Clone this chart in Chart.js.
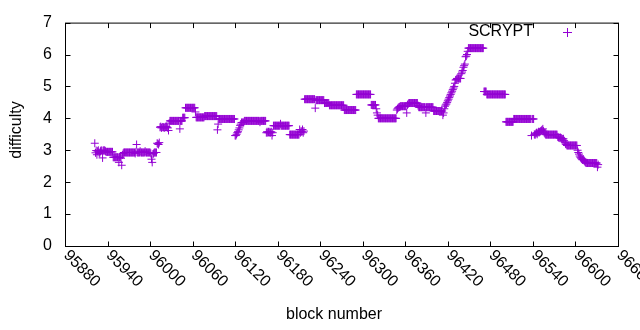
<!DOCTYPE html>
<html>
<head>
<meta charset="utf-8">
<script src="https://cdn.jsdelivr.net/npm/chart.js@4.4.1/dist/chart.umd.min.js"></script>
<style>
  html, body { margin: 0; padding: 0; background: #fff; }
  #chart { display: block; }
</style>
</head>
<body>
<canvas id="chart" width="640" height="330"></canvas>
<script>
// ── difficulty per block, one value per block from firstBlock on ──

const seriesName = 'SCRYPT';
const firstBlock = 95922;
const difficulty = [
  3.22,2.92,2.99,2.86,2.97,3.00,2.93,2.90,2.97,3.00, // 95922
  2.98,2.76,3.00,2.98,3.00,2.97,2.95,2.95,2.95,2.95, // 95932
  2.95,2.95,2.95,2.95,2.95,2.95,2.78,2.78,2.78,2.78, // 95942
  2.78,2.78,2.78,2.78,2.62,2.78,2.78,2.75,2.53,2.85, // 95952
  2.90,2.93,2.93,2.93,2.93,2.93,2.93,2.93,2.93,2.93, // 95962
  2.93,2.93,2.93,2.93,2.93,2.93,2.93,2.90,2.95,3.18, // 95972
  2.93,2.93,2.93,2.93,2.97,2.93,2.93,2.93,2.93,2.93, // 95982
  2.93,2.97,2.93,2.93,2.93,2.93,2.93,2.93,2.93,2.90, // 95992
  2.72,2.62,2.88,2.90,2.93,2.93,2.93,2.93,3.22,3.20, // 96002
  3.18,3.24,3.72,3.74,3.70,3.72,3.73,3.72,3.70,3.73, // 96012
  3.72,3.74,3.72,3.70,3.62,3.85,3.92,3.92,3.92,3.92, // 96022
  3.92,3.92,3.92,3.92,3.92,3.92,3.92,3.92,3.92,3.92, // 96032
  3.67,3.92,3.92,3.92,4.02,4.02,4.02,4.02,4.33,4.33, // 96042
  4.33,4.33,4.33,4.33,4.33,4.33,4.33,4.33,4.33,4.33, // 96052
  4.33,4.33,4.20,4.03,4.03,4.03,4.03,4.03,4.03,4.03, // 96062
  4.03,4.03,4.03,4.03,4.03,4.07,4.07,4.07,4.07,4.07, // 96072
  4.07,4.07,4.07,4.07,4.07,4.07,4.07,4.07,4.07,4.07, // 96082
  4.07,4.07,4.07,3.64,3.82,3.98,3.98,3.98,3.98,3.98, // 96092
  3.98,3.98,3.98,3.98,3.98,3.98,3.98,3.98,3.98,3.98, // 96102
  3.98,3.98,3.98,3.98,3.98,3.98,3.98,3.98,3.46,3.46, // 96112
  3.50,3.55,3.58,3.64,3.70,3.78,3.82,3.87,3.87,3.87, // 96122
  3.87,3.92,3.92,3.92,3.92,3.92,3.92,3.92,3.92,3.92, // 96132
  3.92,3.92,3.92,3.92,3.92,3.92,3.92,3.92,3.92,3.92, // 96142
  3.92,3.92,3.92,3.88,3.92,3.92,3.92,3.92,3.92,3.92, // 96152
  3.92,3.92,3.55,3.58,3.55,3.58,3.55,3.58,3.55,3.58, // 96162
  3.46,3.55,3.77,3.77,3.77,3.77,3.77,3.77,3.77,3.77, // 96172
  3.77,3.77,3.83,3.77,3.77,3.77,3.77,3.77,3.77,3.77, // 96182
  3.77,3.77,3.77,3.77,3.77,3.49,3.49,3.49,3.49,3.49, // 96192
  3.49,3.49,3.49,3.49,3.49,3.49,3.49,3.49,3.49,3.65, // 96202
  3.55,3.60,3.58,3.65,3.55,3.60,4.60,4.60,4.60,4.60, // 96212
  4.60,4.60,4.60,4.60,4.60,4.60,4.60,4.60,4.60,4.60, // 96222
  4.60,4.32,4.57,4.57,4.57,4.57,4.57,4.57,4.57,4.57, // 96232
  4.57,4.57,4.57,4.57,4.48,4.48,4.48,4.48,4.48,4.48, // 96242
  4.48,4.41,4.41,4.41,4.41,4.41,4.41,4.41,4.41,4.41, // 96252
  4.41,4.41,4.41,4.41,4.41,4.41,4.41,4.41,4.41,4.41, // 96262
  4.41,4.41,4.26,4.26,4.26,4.26,4.26,4.26,4.26,4.26, // 96272
  4.26,4.26,4.26,4.26,4.26,4.26,4.26,4.26,4.26,4.75, // 96282
  4.75,4.75,4.75,4.75,4.75,4.75,4.75,4.75,4.75,4.75, // 96292
  4.75,4.75,4.75,4.75,4.75,4.75,4.75,4.75,4.75,4.75, // 96302
  4.42,4.42,4.42,4.42,4.42,4.42,4.42,4.30,4.17,4.10, // 96312
  4.00,4.00,4.00,4.00,4.00,4.00,4.00,4.00,4.00,4.00, // 96322
  4.00,4.00,4.00,4.00,4.00,4.00,4.00,4.00,4.00,4.00, // 96332
  4.00,4.00,4.00,4.00,4.00,4.00,4.26,4.30,4.33,4.35, // 96342
  4.36,4.38,4.38,4.38,4.38,4.38,4.38,4.38,4.38,4.38, // 96352
  4.17,4.42,4.45,4.48,4.48,4.48,4.48,4.48,4.48,4.48, // 96362
  4.48,4.48,4.48,4.48,4.48,4.48,4.40,4.35,4.35,4.35, // 96372
  4.35,4.35,4.35,4.35,4.35,4.35,4.35,4.17,4.35,4.35, // 96382
  4.35,4.35,4.35,4.35,4.35,4.35,4.35,4.35,4.23,4.23, // 96392
  4.23,4.23,4.23,4.23,4.23,4.23,4.23,4.23,4.23,4.23, // 96402
  4.23,4.10,4.17,4.30,4.38,4.42,4.45,4.50,4.55,4.60, // 96412
  4.65,4.70,4.75,4.80,4.85,4.90,4.95,5.00,5.10,5.20, // 96422
  5.22,5.25,5.25,5.25,5.25,5.25,5.25,5.40,5.45,5.50, // 96432
  5.60,5.65,5.70,5.93,5.95,6.00,6.10,6.20,6.20,6.20, // 96442
  6.20,6.20,6.20,6.20,6.20,6.20,6.20,6.20,6.20,6.20, // 96452
  6.20,6.20,6.20,6.20,6.20,6.20,6.20,6.20,6.20,4.84, // 96462
  4.84,4.84,4.84,4.75,4.75,4.75,4.75,4.75,4.75,4.75, // 96472
  4.75,4.75,4.75,4.75,4.75,4.75,4.75,4.75,4.75,4.75, // 96482
  4.75,4.75,4.75,4.75,4.75,4.75,4.75,4.75,4.75,4.75, // 96492
  3.89,3.89,3.89,3.89,3.89,3.89,3.89,3.89,3.89,3.89, // 96502
  3.89,3.98,3.98,3.98,3.98,3.98,3.98,3.98,3.98,3.98, // 96512
  3.98,3.98,3.98,3.98,3.98,3.98,3.98,3.98,3.98,3.98, // 96522
  3.98,3.98,3.98,3.98,3.98,3.98,3.46,3.98,3.98,3.98, // 96532
  3.50,3.48,3.52,3.55,3.50,3.55,3.58,3.56,3.58,3.60, // 96542
  3.62,3.64,3.67,3.60,3.55,3.52,3.49,3.49,3.49,3.49, // 96552
  3.49,3.49,3.49,3.49,3.49,3.49,3.49,3.49,3.49,3.49, // 96562
  3.49,3.49,3.49,3.42,3.40,3.40,3.38,3.40,3.38,3.36, // 96572
  3.35,3.36,3.30,3.25,3.20,3.18,3.15,3.15,3.15,3.15, // 96582
  3.15,3.15,3.15,3.15,3.15,3.15,3.15,3.15,3.15,3.15, // 96592
  3.15,3.00,2.93,2.88,2.82,2.78,2.75,2.72,2.70,2.72, // 96602
  2.68,2.65,2.62,2.60,2.60,2.60,2.60,2.60,2.60,2.60, // 96612
  2.60,2.60,2.60,2.60,2.60,2.60,2.60,2.60,2.60,2.47, // 96622
  2.55                                               // 96632
];

const xTicks = [95880, 95940, 96000, 96060, 96120, 96180, 96240, 96300,
                96360, 96420, 96480, 96540, 96600, 96660];
const yTicks = [0, 1, 2, 3, 4, 5, 6, 7];
const xTitle = 'block number';
const yTitle = 'difficulty';

const COLOR = '#9400d3';
const FONT  = '"Liberation Sans", Arial, sans-serif';
const FONT_SIZE = 16;

// gnuplot-ish frame: border, inward mirrored ticks, rotated x labels, key
const gnuplotFrame = {
  id: 'gnuplotFrame',
  afterDraw(chart) {
    const { ctx, chartArea: a, scales: { x, y } } = chart;
    const L = a.left + 0.5, R = a.right + 0.5, T = a.top + 0.5, B = a.bottom + 0.5;
    const tick = 5;

    ctx.save();
    ctx.strokeStyle = '#000';
    ctx.lineWidth = 1;
    ctx.strokeRect(L, T, R - L, B - T);

    ctx.beginPath();
    xTicks.forEach(v => {
      const px = Math.round(x.getPixelForValue(v)) + 0.5;
      ctx.moveTo(px, B); ctx.lineTo(px, B - tick);
      ctx.moveTo(px, T); ctx.lineTo(px, T + tick);
    });
    yTicks.forEach(v => {
      const py = Math.round(y.getPixelForValue(v)) + 0.5;
      ctx.moveTo(L, py); ctx.lineTo(L + tick, py);
      ctx.moveTo(R, py); ctx.lineTo(R - tick, py);
    });
    ctx.stroke();

    ctx.fillStyle = '#000';
    ctx.font = `${FONT_SIZE}px ${FONT}`;

    // x tick labels, rotated 45deg clockwise, starting at the tick
    ctx.textAlign = 'left';
    ctx.textBaseline = 'middle';
    xTicks.forEach(v => {
      const px = x.getPixelForValue(v);
      ctx.save();
      ctx.translate(px + 1, a.bottom + 7);
      ctx.rotate(Math.PI / 4);
      ctx.fillText(String(v), 0, 0);
      ctx.restore();
    });

    // axis titles
    ctx.textAlign = 'center';
    ctx.fillText(xTitle, 334, 315);
    ctx.save();
    ctx.translate(17, 130);
    ctx.rotate(-Math.PI / 2);
    ctx.fillText(yTitle, 0, 0);
    ctx.restore();

    // key
    ctx.textAlign = 'right';
    ctx.fillText(seriesName, 533, 32);
    ctx.strokeStyle = COLOR;
    ctx.beginPath();
    ctx.moveTo(563, 32.5); ctx.lineTo(572, 32.5);
    ctx.moveTo(567.5, 28); ctx.lineTo(567.5, 37);
    ctx.stroke();

    ctx.restore();
  }
};

const whiteBg = {
  id: 'whiteBg',
  beforeDraw(chart) {
    const { ctx, width, height } = chart;
    ctx.save();
    ctx.fillStyle = '#fff';
    ctx.fillRect(0, 0, width, height);
    ctx.restore();
  }
};

new Chart(document.getElementById('chart'), {
  type: 'scatter',
  data: {
    datasets: [{
      label: seriesName,
      data: difficulty.map((d, i) => ({ x: firstBlock + i, y: d })),
      pointStyle: 'cross',
      pointRadius: 4,
      pointBorderWidth: 1,
      borderColor: COLOR,
      backgroundColor: COLOR,
    }],
  },
  options: {
    responsive: false,
    animation: false,
    devicePixelRatio: 1,
    layout: { padding: { top: 16, right: 22, left: 0, bottom: 0 } },
    plugins: { legend: { display: false }, tooltip: { enabled: false } },
    scales: {
      x: {
        type: 'linear',
        min: 95880, max: 96660,
        afterBuildTicks: s => { s.ticks = xTicks.map(v => ({ value: v })); },
        ticks: { display: false },
        grid: { display: false, drawTicks: false },
        border: { display: false },
        afterFit: s => { s.height = 84; },
      },
      y: {
        min: 0, max: 7,
        afterBuildTicks: s => { s.ticks = yTicks.map(v => ({ value: v })); },
        ticks: { padding: 13, color: '#000', font: { family: FONT, size: FONT_SIZE } },
        grid: { display: false, drawTicks: false },
        border: { display: false },
        afterFit: s => { s.width = 65; },
      },
    },
  },
  plugins: [whiteBg, gnuplotFrame],
});
</script>
</body>
</html>
